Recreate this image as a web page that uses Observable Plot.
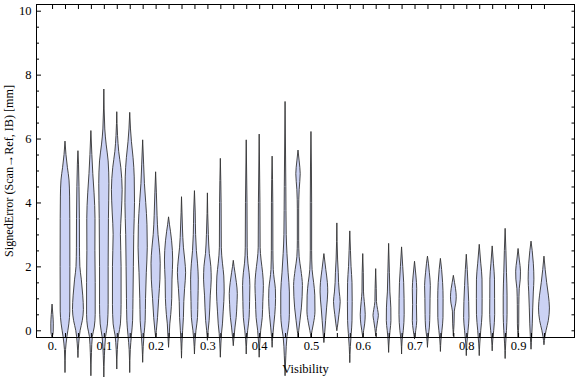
<!DOCTYPE html>
<html>
<head>
<meta charset="utf-8">
<script src="https://cdn.jsdelivr.net/npm/d3@7"></script>
<script src="https://cdn.jsdelivr.net/npm/@observablehq/plot@0.6"></script>
<style>
  html, body { margin: 0; padding: 0; background: #fff; }
  #chart { width: 576px; height: 377px; }
</style>
</head>
<body>
<div id="chart"></div>
<script>
// Category positions (Visibility bins)
const visibility = [0, 0.025, 0.05, 0.075, 0.1, 0.125, 0.15, 0.175, 0.2, 0.225, 0.25, 0.275, 0.3, 0.325, 0.35, 0.375, 0.4, 0.425, 0.45, 0.475, 0.5, 0.525, 0.55, 0.575, 0.6, 0.625, 0.65, 0.675, 0.7, 0.725, 0.75, 0.775, 0.8, 0.825, 0.85, 0.875, 0.9, 0.925, 0.95];

// Smooth density profiles: [signed error (mm), relative density]
const profiles = [
  [[-0.21,0],[-0.05,1.2],[0.2,1.3],[0.5,0.8],[0.82,0]],
  [[-1.31,0],[-0.6,0.6],[-0.2,2],[0.2,4],[0.6,5],[2,5.1],[3.5,5],[4.2,4.8],[4.7,4.2],[5.1,2.5],[5.5,1],[5.92,0]],
  [[-0.84,0],[-0.4,0.8],[0,2.3],[0.3,4.5],[0.65,5.7],[1.1,5],[1.6,3.5],[2.0,2],[2.6,1.6],[3.5,1.5],[4.5,1.1],[5.2,0.6],[5.62,0]],
  [[-1.41,0],[-0.7,0.6],[-0.2,1.5],[0.1,3.5],[0.5,4.5],[1.5,4.5],[2.5,4.2],[3.5,4.3],[4.3,3.3],[4.9,2],[5.5,1],[6.25,0]],
  [[-1.45,0],[-0.8,0.6],[-0.2,1.8],[0.2,3.8],[0.8,4.5],[2,4.5],[3.5,4.8],[4.6,5.3],[5.3,4.5],[5.8,2.5],[6.3,1],[7.55,0]],
  [[-1.2,0],[-0.6,0.6],[-0.15,1.8],[0.2,3.8],[0.8,4.5],[2,4.5],[3.0,3.8],[3.7,4.8],[4.4,5.6],[5.1,4.2],[5.6,2],[6.1,0.8],[6.84,0]],
  [[-1.31,0],[-0.6,0.6],[-0.15,1.8],[0.3,3],[1,3.4],[2,3.8],[3,4.2],[4,5],[4.8,4.7],[5.4,3.5],[5.9,1.8],[6.3,0.8],[6.82,0]],
  [[-0.99,0],[-0.5,0.6],[-0.1,1.5],[0.3,2.6],[1,3],[1.8,3.8],[2.6,4.8],[3.3,4.5],[4,3.2],[4.6,1.8],[5.2,1],[5.96,0]],
  [[-0.2,0],[0,0.8],[0.4,2],[1.0,3.2],[1.6,4.5],[2.1,4.8],[2.6,3.8],[3.0,2.5],[3.6,1.5],[4.3,0.8],[4.96,0]],
  [[-0.52,0],[-0.2,0.6],[0.2,1.3],[0.5,2.3],[1.0,3.3],[1.6,3.6],[2.2,4.3],[2.8,3.2],[3.1,2],[3.3,1],[3.55,0]],
  [[-0.86,0],[-0.4,0.5],[0,1.2],[0.4,2],[0.9,2.4],[1.3,3.2],[1.8,4.3],[2.2,3.4],[2.6,2],[3.2,1],[4.18,0]],
  [[-0.73,0],[-0.3,0.7],[0,1.6],[0.4,3.2],[0.9,3.6],[1.6,4.0],[2.1,3.2],[2.5,2],[3.0,1.2],[3.7,0.8],[4.37,0]],
  [[-0.3,0],[0,0.8],[0.3,1.8],[0.7,2.5],[1.1,3],[1.6,4],[2.0,3.6],[2.4,2],[3.0,1],[4.3,0]],
  [[-0.83,0],[-0.4,0.6],[-0.1,1.2],[0.2,2.2],[0.6,3],[1.2,4],[1.7,3.6],[2.1,2.2],[2.6,1],[4,0.8],[5.38,0]],
  [[-0.47,0],[-0.2,0.8],[0.1,1.8],[0.4,3],[0.8,3.8],[1.15,4.2],[1.5,3.2],[1.8,1.8],[2.0,0.8],[2.19,0]],
  [[-0.73,0],[-0.3,0.6],[0,1.5],[0.4,3],[0.9,3.5],[1.4,3.8],[1.8,3],[2.1,1.8],[2.6,1],[4,0.8],[5.96,0]],
  [[-0.83,0],[-0.4,0.6],[0,1.6],[0.4,3.2],[0.9,3.8],[1.4,4.4],[1.8,3.6],[2.2,2],[2.6,1],[4,0.8],[6.14,0]],
  [[-0.52,0],[-0.2,0.6],[0.1,1.5],[0.5,2.8],[1.0,3.6],[1.3,3.4],[1.6,2.2],[1.9,1.2],[2.5,0.8],[4,0.7],[5.45,0]],
  [[-1.41,0],[-0.8,0.8],[-0.2,2],[0.1,3.5],[0.5,4.5],[1.2,4.5],[1.8,3.2],[2.4,2],[3.0,1.2],[4.5,0.8],[7.16,0]],
  [[-0.21,0],[0,0.8],[0.3,2],[0.7,3.5],[1.4,4.6],[1.9,3],[2.3,1.2],[2.8,0.7],[3.8,0.7],[4.4,1.2],[4.9,2.3],[5.3,1.2],[5.64,0]],
  [[-0.21,0],[0,1.2],[0.2,2.5],[0.6,4.2],[1.1,4.0],[1.5,2.8],[1.9,1.2],[2.5,0.7],[4,0.7],[6.22,0]],
  [[-0.37,0],[-0.1,0.8],[0.3,1.8],[0.7,2.8],[1.2,4],[1.5,3.6],[1.9,2],[2.2,0.8],[2.4,0]],
  [[0,0],[0.2,1],[0.5,2.2],[0.9,3.5],[1.2,2.5],[1.5,1.8],[1.8,1.5],[2.2,0.8],[3.36,0]],
  [[-1.0,0],[-0.5,0.6],[-0.1,1.5],[0.3,2.3],[0.9,2.5],[1.5,2.3],[2.0,1.3],[2.5,0.7],[3.11,0]],
  [[-0.21,0],[0,1],[0.2,2],[0.5,2.6],[0.9,1.6],[1.2,0.8],[1.8,0.6],[2.4,0]],
  [[-0.16,0],[0.05,0.8],[0.3,2],[0.47,2.8],[0.65,2],[0.9,0.8],[1.3,0.6],[1.93,0]],
  [[-0.68,0],[-0.3,0.6],[0,1.5],[0.3,2.4],[0.7,2.3],[1.2,1.3],[1.8,0.8],[2.72,0]],
  [[-0.73,0],[-0.3,0.6],[0,1.8],[0.5,2.7],[1.0,2.6],[1.5,2.2],[2.0,1.2],[2.61,0]],
  [[-0.26,0],[0,1.3],[0.3,2.3],[0.8,2.0],[1.3,2.3],[1.7,1.5],[2.16,0]],
  [[-0.52,0],[-0.2,0.8],[0.1,2],[0.5,2.5],[1.0,2.7],[1.4,3],[1.8,2],[2.1,1],[2.32,0]],
  [[-0.65,0],[-0.3,0.6],[0,1.6],[0.4,2.7],[1.0,2.8],[1.5,2.3],[1.9,1.3],[2.25,0]],
  [[-0.16,0],[0.2,0.7],[0.6,1],[0.85,2.5],[1.05,3],[1.3,2.3],[1.5,1.2],[1.72,0]],
  [[-0.78,0],[-0.4,0.6],[0,1.8],[0.4,2.8],[0.9,2.5],[1.4,1.8],[1.9,1],[2.38,0]],
  [[-0.78,0],[-0.4,0.6],[0,1.6],[0.5,2.9],[1.0,3],[1.6,2.9],[2.1,1.6],[2.69,0]],
  [[-0.63,0],[-0.3,0.6],[0,1.6],[0.5,2.6],[1.0,2.5],[1.6,2.4],[2.1,1.3],[2.64,0]],
  [[-0.87,0],[-0.4,0.6],[0,1.4],[0.5,2],[1.1,2],[1.8,1.4],[2.5,0.8],[3.19,0]],
  [[-0.21,0],[0.2,0.7],[0.8,0.8],[1.3,1.2],[1.6,2.3],[1.85,2.5],[2.2,1.3],[2.56,0]],
  [[-0.58,0],[-0.2,0.7],[0.2,1.3],[0.7,1.8],[1.2,2.4],[1.6,3],[2.1,2.4],[2.5,1.2],[2.79,0]],
  [[-0.44,0],[-0.2,1],[0,2.2],[0.3,4.5],[0.7,5.7],[1.1,4.6],[1.5,2.8],[1.9,1.3],[2.32,0]]
];

// Tick labels
const xTickValues = [0, 0.1, 0.2, 0.3, 0.4, 0.5, 0.6, 0.7, 0.8, 0.9];
const xTickLabels = ["0.", "0.1", "0.2", "0.3", "0.4", "0.5", "0.6", "0.7", "0.8", "0.9"];
const yTickValues = [0, 2, 4, 6, 8, 10];
const yMinorTicks = [0.5, 1, 1.5, 2.5, 3, 3.5, 4.5, 5, 5.5, 6.5, 7, 7.5, 8.5, 9, 9.5];
const yAllTicks = [0, 0.5, 1, 1.5, 2, 2.5, 3, 3.5, 4, 4.5, 5, 5.5, 6, 6.5, 7, 7.5, 8, 8.5, 9, 9.5, 10];
const xLabel = "Visibility";
const yLabel = "SignedError (Scan\u2192Ref, IB) [mm]";

// violin half-width per density unit (in Visibility units)
const widthScale = 0.00185;

const rows = [];
profiles.forEach((prof, i) => {
  prof.forEach(([e, d]) => rows.push({i, v: visibility[i], e, d}));
});

const blank = () => "";

const chart = Plot.plot({
  width: 576,
  height: 377,
  marginLeft: 36,
  marginRight: 2,
  marginTop: 4,
  marginBottom: 40,
  style: {fontFamily: "'Liberation Serif', 'Times New Roman', serif", fontSize: "12.5px", color: "#000", background: "#fff"},
  x: {domain: [-0.031, 1.008], axis: null},
  y: {domain: [-0.21, 10.21], axis: null},
  marks: [
    Plot.areaX(rows, {
      y: "e",
      x1: d => d.v - d.d * widthScale,
      x2: d => d.v + d.d * widthScale,
      z: "i",
      curve: "monotone-y",
      fill: "#cbd2f4",
      stroke: "#333",
      strokeWidth: 1,
      strokeOpacity: 0.9
    }),
    Plot.frame({stroke: "#000", strokeWidth: 1}),
    // left axis: major + minor ticks (inward) and labels
    Plot.axisY(yTickValues, {anchor: "left", tickSize: 0, tickPadding: 5, tickFormat: d => String(d), label: null}),
    Plot.axisY(yTickValues, {anchor: "left", tickSize: 5, dx: 5, tickFormat: blank, label: null}),
    Plot.axisY(yMinorTicks, {anchor: "left", tickSize: 3, dx: 3, tickFormat: blank, label: null}),
    // right axis ticks
    Plot.axisY(yAllTicks, {anchor: "right", tickSize: 3.5, dx: -3.5, tickFormat: blank, label: null}),
    // bottom axis: category ticks and labels
    Plot.axisX(visibility, {anchor: "bottom", tickSize: 4, dy: -4, tickFormat: blank, label: null}),
    Plot.axisX(xTickValues, {anchor: "bottom", tickSize: 0, tickPadding: 4, tickFormat: (d, k) => xTickLabels[k], label: null}),
    // top axis ticks
    Plot.axisX(visibility, {anchor: "top", tickSize: 4, dy: 4, tickFormat: blank, label: null}),
    // axis titles
    Plot.text([xLabel], {frameAnchor: "bottom", dy: 31, lineAnchor: "middle", textAnchor: "middle", fontSize: 12.5}),
    Plot.text([yLabel], {frameAnchor: "left", dx: -27, rotate: -90, lineAnchor: "middle", textAnchor: "middle", fontSize: 12, className: "ylabel"})
  ]
});

document.getElementById("chart").appendChild(chart);
// fit the rotated y title to the length it has in the reference
d3.select(chart).selectAll(".ylabel text")
  .attr("textLength", 172)
  .attr("lengthAdjust", "spacingAndGlyphs");
</script>
</body>
</html>
